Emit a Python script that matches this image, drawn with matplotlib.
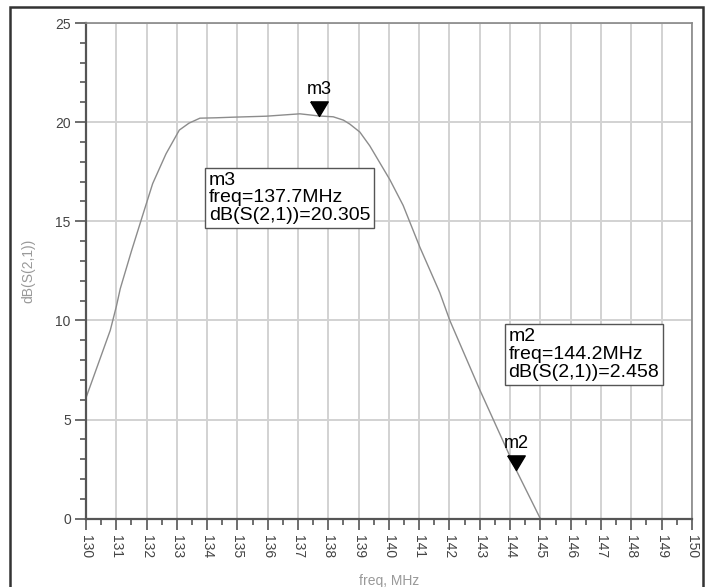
import numpy as np
import matplotlib
matplotlib.use('Agg')
import matplotlib.pyplot as plt
from matplotlib.ticker import MultipleLocator
from matplotlib.patches import Rectangle

plt.rcParams['font.family'] = ['Liberation Sans', 'DejaVu Sans']

# S21 curve
freq = [130.0, 130.8, 131.0, 131.13, 131.5, 131.89, 132.2, 132.64, 133.08, 133.4,
        133.76, 134.3, 134.85, 135.95, 137.06, 137.7, 138.16, 138.5, 138.71, 139.04,
        139.37, 140.03, 140.47, 141.02, 141.68, 142.01, 143.0, 144.2, 145.0]
s21_db = [6.1, 9.5, 10.7, 11.6, 13.5, 15.4, 16.9, 18.4, 19.6, 19.95,
          20.2, 20.22, 20.25, 20.3, 20.42, 20.31, 20.27, 20.1, 19.9, 19.5,
          18.8, 17.1, 15.8, 13.7, 11.4, 10.0, 6.5, 2.46, 0.0]

# markers
mk_names = ['m3', 'm2']
mk_freq = [137.7, 144.2]
mk_db = [20.305, 2.458]
box_pos = [(134.05, 17.5), (143.95, 9.6)]

fig = plt.figure(figsize=(7.11, 5.87), dpi=100, facecolor='white')
ax = fig.add_axes([0.121, 0.1164, 0.852, 0.8444])

# outer frame
fig.add_artist(Rectangle((10 / 711, -0.05), 693 / 711, 1 - 7 / 587 + 0.05,
                         transform=fig.transFigure, fill=False,
                         edgecolor='#333333', lw=1.8))

ax.plot(freq, s21_db, color='#8c8c8c', lw=1.0, clip_on=True)

ax.set_xlim(130, 150)
ax.set_ylim(0, 25)
ax.xaxis.set_major_locator(MultipleLocator(1))
ax.xaxis.set_minor_locator(MultipleLocator(0.5))
ax.yaxis.set_major_locator(MultipleLocator(5))
ax.yaxis.set_minor_locator(MultipleLocator(1))
ax.grid(True, which='major', color='#d2d2d2', lw=1.4)
ax.set_axisbelow(True)

ax.tick_params(which='major', direction='out', length=8, width=1.2, color='#555555',
               labelsize=10, labelcolor='#444444')
ax.tick_params(which='minor', direction='out', length=4, width=1.2, color='#555555')
ax.tick_params(axis='x', labelrotation=270, pad=4)
ax.tick_params(axis='y', pad=3)

for s in ['left', 'bottom']:
    ax.spines[s].set_color('#555555')
    ax.spines[s].set_linewidth(1.6)
for s in ['top', 'right']:
    ax.spines[s].set_color('#888888')
    ax.spines[s].set_linewidth(1.2)

ax.set_ylabel('dB(S(2,1))', color='#999999', fontsize=10, labelpad=14)
ax.set_xlabel('freq, MHz', color='#999999', fontsize=10, labelpad=11)

# marker triangle with its tip on the curve
tri = [(-1.2, 2.0), (1.2, 2.0), (0.0, 0.0), (-1.2, 2.0)]
for name, f, d, (bx, by) in zip(mk_names, mk_freq, mk_db, box_pos):
    ax.plot([f], [d], marker=tri, ms=21, color='black', clip_on=False)
    ax.annotate(name, xy=(f, d), xytext=(0, 19), textcoords='offset points',
                ha='center', va='center', fontsize=13, color='black')
    ax.text(bx, by, '%s\nfreq=%.1fMHz\ndB(S(2,1))=%.3f' % (name, f, d),
            ha='left', va='top', fontsize=14, linespacing=1.05, color='black',
            bbox=dict(boxstyle='square,pad=0.2', fc='white', ec='#555555', lw=1.0))

fig.savefig('out.png', dpi=100)
